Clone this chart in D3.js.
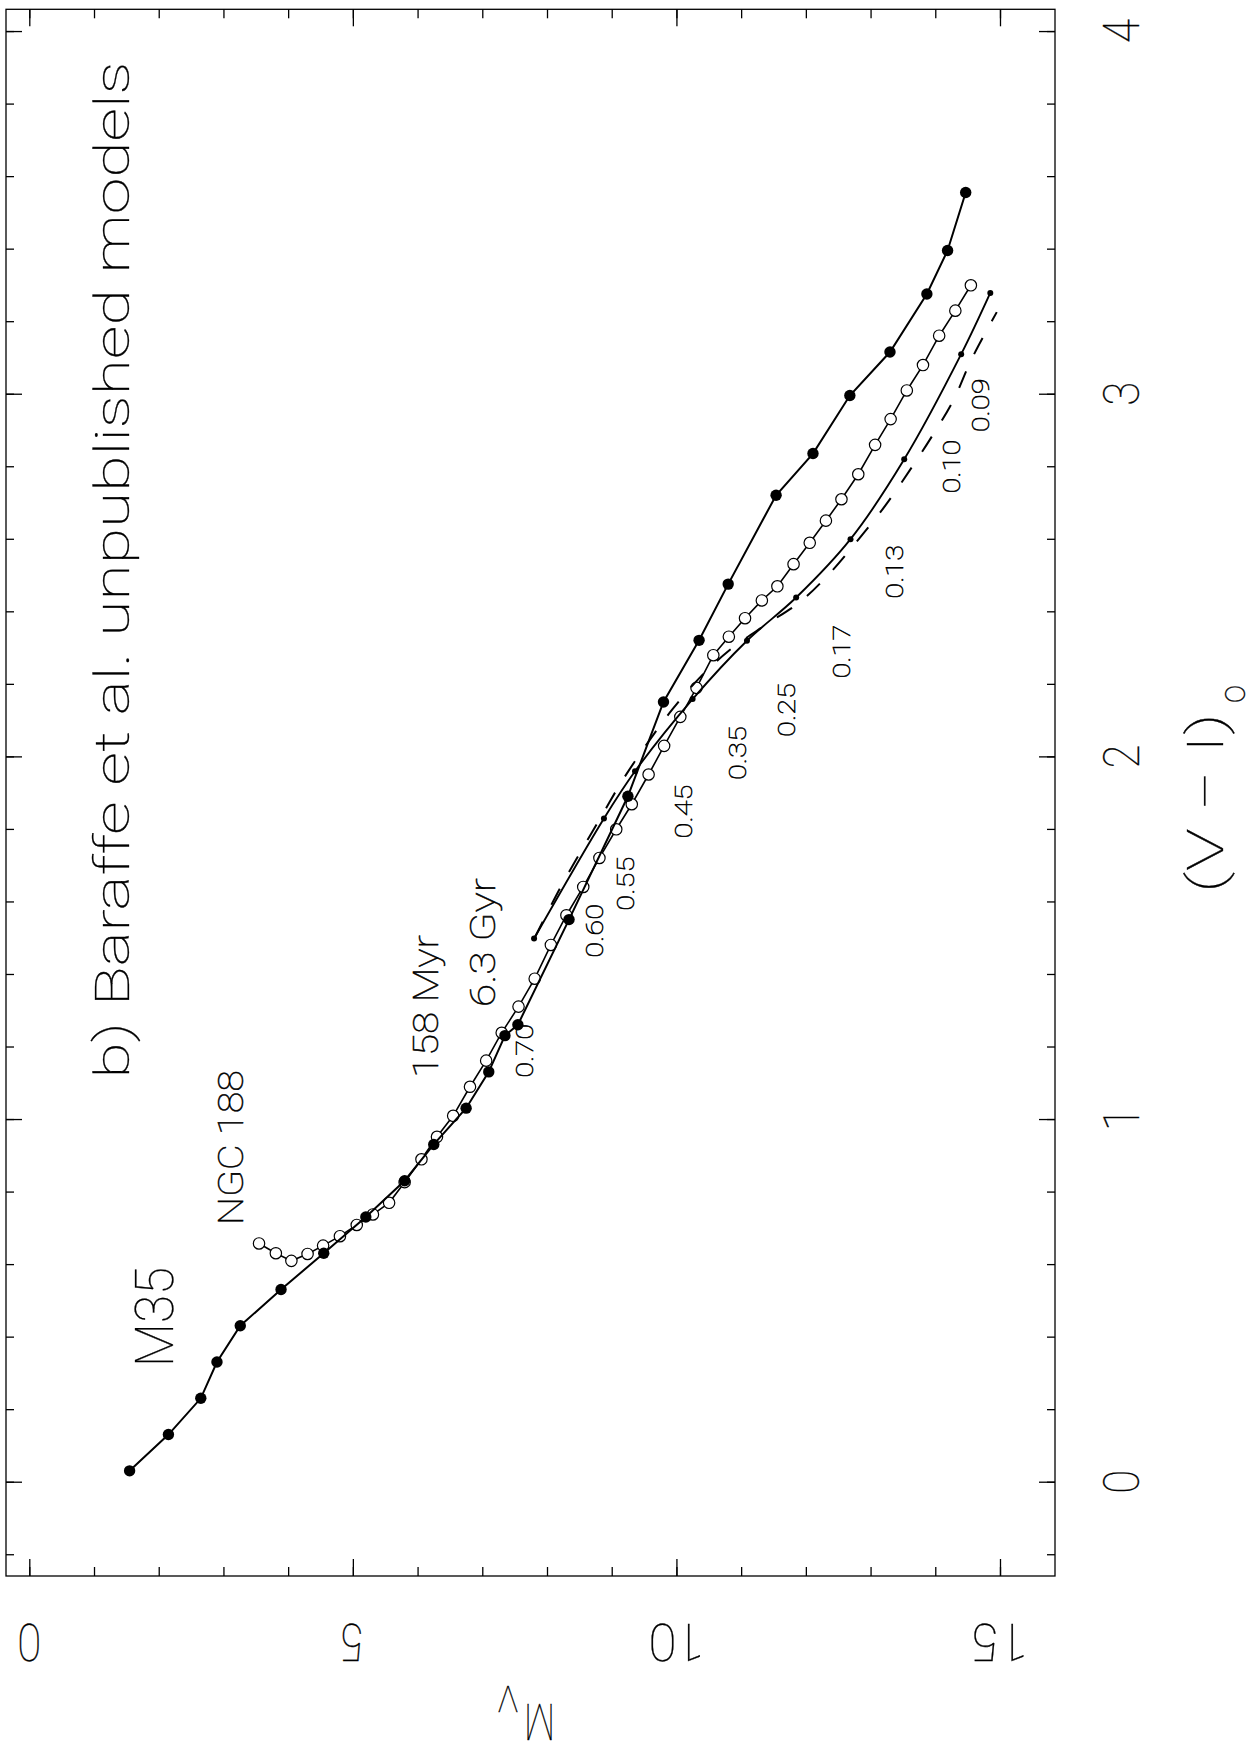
<!DOCTYPE html>
<html><head><meta charset="utf-8">
<script src="https://cdn.jsdelivr.net/npm/d3@7"></script>
<style>
body{margin:0;background:#fff}
svg text{font-family:Roboto,Lato,Inter,"DejaVu Sans",sans-serif;font-weight:100;fill:#000;stroke:#000;stroke-width:0.3px}
svg text.small{stroke-width:0.5px}
</style></head><body>
<svg id="c" width="1257" height="1754"></svg>
<script>
// ---- data (M_V, (V-I)o) ----
const m35MV = [1.55,2.15,2.65,2.90,3.26,3.89,4.55,5.20,5.80,6.25,6.75,7.10,7.35,7.55,8.34,9.25,9.80,10.35,10.80,11.54,12.11,12.68,13.30,13.87,14.19,14.47];
const m35VI = [0.03,0.13,0.23,0.33,0.43,0.53,0.63,0.73,0.83,0.93,1.03,1.13,1.23,1.26,1.55,1.89,2.15,2.32,2.475,2.72,2.835,2.995,3.115,3.275,3.395,3.555];

const ngcMV = [3.55,3.81,4.05,4.30,4.54,4.80,5.06,5.31,5.56,5.80,6.06,6.30,6.55,6.81,7.06,7.30,7.56,7.81,8.06,8.30,8.56,8.81,9.07,9.31,9.57,9.81,10.06,10.31,10.57,10.81,11.06,11.32,11.56,11.81,12.06,12.31,12.55,12.81,13.07,13.31,13.56,13.81,14.06,14.31,14.55];
const ngcVI = [0.657,0.630,0.609,0.628,0.651,0.677,0.708,0.737,0.769,0.826,0.889,0.951,1.009,1.089,1.161,1.238,1.310,1.387,1.480,1.562,1.640,1.720,1.799,1.868,1.950,2.029,2.109,2.189,2.279,2.330,2.381,2.430,2.469,2.530,2.589,2.650,2.709,2.778,2.859,2.930,3.009,3.079,3.160,3.229,3.299];

// model isochrone with mass points (solid)
const modelMass = ["0.70","0.60","0.55","0.45","0.35","0.25","0.17","0.13","0.10","0.09"];
const modelMV = [7.80,8.88,9.36,10.25,11.09,11.85,12.69,13.52,14.40,14.85];
const modelVI = [1.498,1.829,1.959,2.158,2.319,2.438,2.599,2.819,3.109,3.278];

// second model isochrone (dashed)
const dashMV = [7.81,8.20,8.53,8.85,9.17,9.55,9.94,10.35,10.80,11.38,11.91,12.37,12.83,13.23,13.61,13.95,14.28,14.56,14.95];
const dashVI = [1.50,1.636,1.740,1.838,1.935,2.036,2.130,2.215,2.290,2.363,2.426,2.505,2.602,2.692,2.790,2.883,2.982,3.095,3.225];

// ticks
const mvMajorTicks = [0,5,10,15];
const mvMinorTicks = [0,1,2,3,4,5,6,7,8,9,10,11,12,13,14,15];
const viMajorTicks = [0,1,2,3,4];
const viMinorTicks = [-0.2,0,0.2,0.4,0.6,0.8,1,1.2,1.4,1.6,1.8,2,2.2,2.4,2.6,2.8,3,3.2,3.4,3.6,3.8,4];

// ---- drawing ----
const svg = d3.select("#c");
// rotated plot: M_V runs left->right, (V-I)o runs bottom->top
const X = d3.scaleLinear().domain([-0.36,15.85]).range([6,1055]);
const Y = d3.scaleLinear().domain([-0.26,4.06]).range([1576,9.3]);
const [x0,x1] = X.range(), [y0,y1] = Y.range();

function ax(gen, tx, ty){
  const g = svg.append("g").attr("transform",`translate(${tx},${ty})`).call(gen);
  g.select(".domain").remove();
  g.selectAll("line").attr("stroke","#000").attr("stroke-width",1.3);
  g.selectAll("text").remove();
  return g;
}
ax(d3.axisBottom(X).tickValues(mvMinorTicks).tickSize(-9).tickSizeOuter(0),0,y0);
ax(d3.axisBottom(X).tickValues(mvMajorTicks).tickSize(-17).tickSizeOuter(0),0,y0);
ax(d3.axisTop(X).tickValues(mvMinorTicks).tickSize(-9).tickSizeOuter(0),0,y1);
ax(d3.axisTop(X).tickValues(mvMajorTicks).tickSize(-17).tickSizeOuter(0),0,y1);
ax(d3.axisRight(Y).tickValues(viMinorTicks).tickSize(-8).tickSizeOuter(0),x1,0);
ax(d3.axisRight(Y).tickValues(viMajorTicks).tickSize(-16).tickSizeOuter(0),x1,0);
ax(d3.axisLeft(Y).tickValues(viMinorTicks).tickSize(-8).tickSizeOuter(0),x0,0);
ax(d3.axisLeft(Y).tickValues(viMajorTicks).tickSize(-16).tickSizeOuter(0),x0,0);

svg.append("rect").attr("x",x0).attr("y",y1).attr("width",x1-x0).attr("height",y0-y1)
  .attr("fill","none").attr("stroke","#000").attr("stroke-width",1.3);

const line = d3.line().x(d=>X(d[0])).y(d=>Y(d[1]));
const smooth = d3.line().x(d=>X(d[0])).y(d=>Y(d[1])).curve(d3.curveCatmullRom.alpha(0.5));

const ngc = d3.zip(ngcMV, ngcVI);
const m35 = d3.zip(m35MV, m35VI);
const model = d3.zip(modelMV, modelVI);
const dash = d3.zip(dashMV, dashVI);

// NGC 188
svg.append("path").datum(ngc).attr("d",line).attr("fill","none").attr("stroke","#000").attr("stroke-width",1.6);
svg.append("g").selectAll("circle").data(ngc).join("circle")
  .attr("cx",d=>X(d[0])).attr("cy",d=>Y(d[1])).attr("r",5.7)
  .attr("fill","#fff").attr("stroke","#000").attr("stroke-width",1.2);

// models
svg.append("path").datum(dash).attr("d",smooth).attr("fill","none").attr("stroke","#000")
  .attr("stroke-width",2).attr("stroke-dasharray","18,19");
svg.append("path").datum(model).attr("d",smooth).attr("fill","none").attr("stroke","#000").attr("stroke-width",1.9);
svg.append("g").selectAll("circle").data(model).join("circle")
  .attr("cx",d=>X(d[0])).attr("cy",d=>Y(d[1])).attr("r",3).attr("fill","#000");

// M35
svg.append("path").datum(m35).attr("d",line).attr("fill","none").attr("stroke","#000").attr("stroke-width",2);
svg.append("g").selectAll("circle").data(m35).join("circle")
  .attr("cx",d=>X(d[0])).attr("cy",d=>Y(d[1])).attr("r",5.7).attr("fill","#000");

// ---- text ----
function rtext(cx, cy, str, size, len, angle, dy, cls){
  svg.append("text").attr("class", cls || null).attr("transform",`translate(${cx},${cy}) rotate(${angle})`)
    .attr("text-anchor","middle").attr("dy", dy || "0.355em").attr("font-size",size)
    .attr("textLength",len).attr("lengthAdjust","spacingAndGlyphs").text(str);
}
// mass labels
modelMass.forEach((m,i)=>{
  rtext(X(modelMV[i]) - 9.5, Y(modelVI[i] - 0.31), m, 24, 54, -90, null, "small");
});
rtext(112, 570, "b) Baraffe et al. unpublished models", 49, 1017, -90);
rtext(154, 1317, "M35", 53, 100, -90);
rtext(230.5, 1147.5, "NGC 188", 35, 155, -90, null, "small");
rtext(425.5, 1006.5, "158 Myr", 35, 143, -90, null, "small");
rtext(482.5, 942.5, "6.3 Gyr", 35, 129, -90, null, "small");

// right axis labels ((V-I)o)
viMajorTicks.forEach(v=> rtext(1121, Y(v), String(v), 50, 24, -90));
// bottom axis labels (M_V), upside down
mvMajorTicks.forEach(v=> rtext(X(v), 1642, String(v), 52, String(v).length>1?56:24, 180));

// axis titles
rtext(1205, 803, "(V \u2212 I)", 50, 180, -90);
rtext(1235, 694, "o", 36, 18, -90, "0.27em");
rtext(539.5, 1722, "M", 50, 31, 180);
rtext(508, 1699, "V", 36, 20, 180);
</script>
</body></html>
